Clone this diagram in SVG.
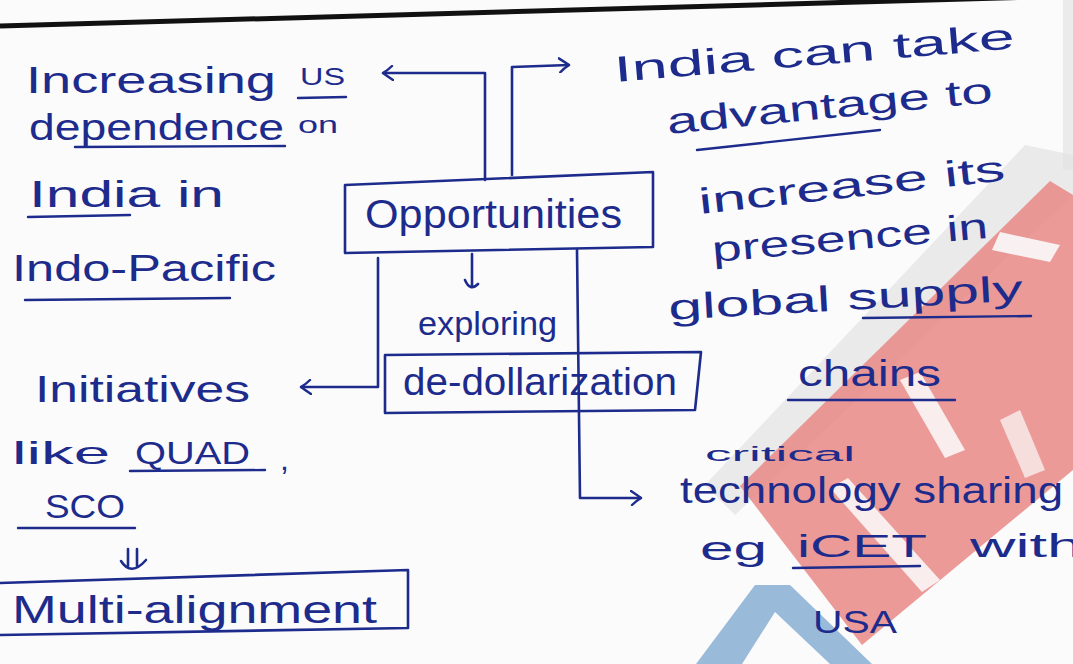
<svg xmlns="http://www.w3.org/2000/svg" width="1073" height="664" viewBox="0 0 1073 664">
<defs>
<style>
.t{font-family:"Liberation Sans","DejaVu Sans",sans-serif;fill:#1d2b8c;}
.ln{fill:none;stroke:#1d2b8c;stroke-width:2.6;stroke-linecap:round;stroke-linejoin:round;}
.ul{fill:none;stroke:#1d2b8c;stroke-width:2.4;stroke-linecap:round;}
.box{fill:none;stroke:#1d2b8c;stroke-width:2.6;stroke-linejoin:round;}
</style>
<marker id="ah" viewBox="0 0 12 16" markerWidth="12" markerHeight="16" refX="11" refY="8" orient="auto" markerUnits="userSpaceOnUse">
<path d="M1,1 Q7,5 11,8 Q6,11 2,15" fill="none" stroke="#1d2b8c" stroke-width="2.4" stroke-linecap="round"/>
</marker>
</defs>
<rect width="1073" height="664" fill="#fbfbfb"/>
<!-- page edge -->
<path d="M0,26 Q540,12 1073,-4" fill="none" stroke="#111" stroke-width="5"/>
<rect x="1063" y="0" width="10" height="170" fill="#e4e4e4" opacity="0.7"/>
<!-- watermark -->
<g id="watermark">
<polygon points="1025,145 1073,155 1073,195 735,515 705,485" fill="#e2e2e2" opacity="0.7"/>
<polygon points="1050,181 1073,195 1073,470 862,645 740,486" fill="#e98885" opacity="0.85"/>
<polygon points="1000,232 1060,245 1050,262 992,250" fill="#fbfbfb" opacity="0.9"/>
<polygon points="900,380 920,372 965,450 945,458" fill="#fbfbfb" opacity="0.85"/>
<polygon points="830,488 848,478 940,580 922,592" fill="#fbfbfb" opacity="0.85"/>
<polygon points="1000,420 1020,410 1045,470 1025,478" fill="#fbfbfb" opacity="0.7"/>
<polygon points="696,664 755,585 790,585 872,664 830,664 775,612 742,664" fill="#8fb3d6" opacity="0.9"/>
</g>
<!-- connectors -->
<g id="connectors">
<path class="ln" d="M485,180 L485,73 L383,73" marker-end="url(#ah)"/>
<path class="ln" d="M512,175 L512,67 L569,65" marker-end="url(#ah)"/>
<path class="ln" d="M378,258 L378,387 L301,387" marker-end="url(#ah)"/>
<path class="ln" d="M472,254 L472,286 M465,280 Q470,292 478,284"/>
<path class="ln" d="M577,250 L580,498 L641,498" marker-end="url(#ah)"/>
<path class="ln" d="M128,549 L128,566 M137,549 L137,566 M121,561 Q131,577 146,560"/>
</g>
<!-- left notes -->
<g id="us-dependence">
<text class="t" x="26" y="93" font-size="36" textLength="250" lengthAdjust="spacingAndGlyphs">Increasing</text>
<text class="t" x="300" y="85" font-size="24" textLength="45" lengthAdjust="spacingAndGlyphs">US</text>
<path class="ul" d="M298,98 L346,97"/>
<text class="t" x="298" y="133" font-size="24" textLength="40" lengthAdjust="spacingAndGlyphs">on</text>
<text class="t" x="29" y="140" font-size="36" textLength="255" lengthAdjust="spacingAndGlyphs">dependence</text>
<path class="ul" d="M75,147 L285,146"/>
<text class="t" x="29" y="207" font-size="36" textLength="195" lengthAdjust="spacingAndGlyphs">India in</text>
<path class="ul" d="M28,217 L130,215"/>
<text class="t" x="12" y="281" font-size="36" textLength="264" lengthAdjust="spacingAndGlyphs">Indo-Pacific</text>
<path class="ul" d="M25,300 L230,298"/>
</g>
<g id="initiatives">
<text class="t" x="35" y="402" font-size="36" textLength="215" lengthAdjust="spacingAndGlyphs">Initiatives</text>
<text class="t" x="12" y="464" font-size="32" textLength="98" lengthAdjust="spacingAndGlyphs">like</text>
<text class="t" x="135" y="464" font-size="32" textLength="115" lengthAdjust="spacingAndGlyphs">QUAD</text>
<path class="ul" d="M130,471 L265,470"/>
<text class="t" x="280" y="470" font-size="32">,</text>
<text class="t" x="45" y="518" font-size="34" textLength="80" lengthAdjust="spacingAndGlyphs">SCO</text>
<path class="ul" d="M18,528 L135,528"/>
</g>
<g id="multi-alignment">
<path class="box" d="M0,583 L408,570 L408,628 L0,635"/>
<text class="t" x="12" y="623" font-size="38" textLength="365" lengthAdjust="spacingAndGlyphs">Multi-alignment</text>
</g>
<!-- center -->
<g id="opportunities">
<polygon class="box" points="345,185 653,172 653,247 345,253"/>
<text class="t" x="365" y="228" font-size="40" textLength="257" lengthAdjust="spacingAndGlyphs">Opportunities</text>
</g>
<g id="exploring">
<text class="t" x="418" y="335" font-size="34" textLength="139" lengthAdjust="spacingAndGlyphs">exploring</text>
</g>
<g id="de-dollarization">
<polygon class="box" points="385,355 701,352 695,410 385,413"/>
<text class="t" x="403" y="395" font-size="38" textLength="274" lengthAdjust="spacingAndGlyphs">de-dollarization</text>
</g>
<!-- right notes -->
<g id="supply-chains">
<text class="t" x="615" y="82" font-size="36" textLength="402" lengthAdjust="spacingAndGlyphs" transform="rotate(-4.8 615 82)">India can take</text>
<text class="t" x="668" y="134" font-size="36" textLength="327" lengthAdjust="spacingAndGlyphs" transform="rotate(-5.6 668 134)">advantage to</text>
<path class="ul" d="M697,150 L880,130"/>
<text class="t" x="700" y="214" font-size="36" textLength="308" lengthAdjust="spacingAndGlyphs" transform="rotate(-6.3 700 214)">increase its</text>
<text class="t" x="713" y="262" font-size="36" textLength="277" lengthAdjust="spacingAndGlyphs" transform="rotate(-5 713 262)">presence in</text>
<text class="t" x="669" y="320" font-size="36" textLength="355" lengthAdjust="spacingAndGlyphs" transform="rotate(-3.2 669 320)">global supply</text>
<path class="ul" d="M863,318 L1031,316"/>
<text class="t" x="798" y="386" font-size="36" textLength="143" lengthAdjust="spacingAndGlyphs">chains</text>
<path class="ul" d="M788,400 L955,400"/>
</g>
<g id="tech-sharing">
<text class="t" x="705" y="461" font-size="20" textLength="150" lengthAdjust="spacingAndGlyphs">critical</text>
<text class="t" x="680" y="503" font-size="36" textLength="383" lengthAdjust="spacingAndGlyphs">technology sharing</text>
<text class="t" x="700" y="560" font-size="34" textLength="67" lengthAdjust="spacingAndGlyphs">eg</text>
<text class="t" x="797" y="557" font-size="32" textLength="130" lengthAdjust="spacingAndGlyphs">iCET</text>
<path class="ul" d="M793,568 L920,566"/>
<text class="t" x="970" y="557" font-size="34" textLength="112" lengthAdjust="spacingAndGlyphs">with</text>
<text class="t" x="813" y="633" font-size="32" textLength="84" lengthAdjust="spacingAndGlyphs">USA</text>
</g>
</svg>
